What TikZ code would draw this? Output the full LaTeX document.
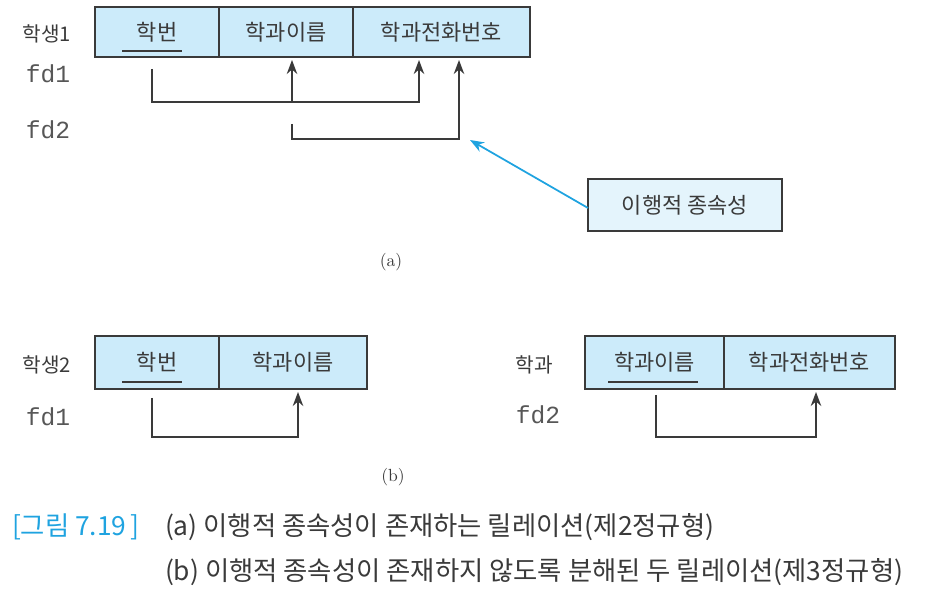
\documentclass[tikz,border=0pt]{standalone}
\usepackage{fontspec}
\usetikzlibrary{arrows.meta,calc}
\newfontfamily\kr{Noto Sans CJK KR}
\newfontfamily\mono{Liberation Mono}
\definecolor{cellblue}{HTML}{CCEBFA}
\definecolor{noteblue}{HTML}{E4F4FC}
\definecolor{linkblue}{HTML}{1FA3E0}
\definecolor{ink}{HTML}{3A3A3A}

\begin{document}
\begin{tikzpicture}[x=0.02cm, y=-0.02cm, outer sep=0pt, >={Stealth[length=8pt,width=6pt]},
  cell/.style={draw=ink, line width=0.9pt, fill=cellblue, inner sep=0pt, minimum height=1cm,
    text=ink, font=\kr\fontsize{12.5}{13}\selectfont},
  note/.style={cell, fill=noteblue, minimum height=1.04cm, minimum width=3.88cm},
  rel/.style={text=ink, inner sep=0pt, font=\kr\fontsize{11.5}{12}\selectfont},
  fdlabel/.style={text=ink!85, inner sep=0pt, font=\mono\fontsize{14}{14}\selectfont},
  sub/.style={text=ink, inner sep=0pt, font=\fontsize{10}{11}\selectfont},
  figcap/.style={text=ink, inner sep=0pt, anchor=west, font=\kr\fontsize{15}{16}\selectfont},
  fdline/.style={draw=ink, line width=0.85pt},
  uline/.style={draw=ink, line width=0.85pt},
  link/.style={draw=linkblue, line width=1pt}]

\useasboundingbox (0,0) rectangle (931,602);

% (a) 학생1
\node[cell, minimum width=2.48cm] at (157,32) (s1id) {학번\hspace{0.28cm}};
\node[cell, minimum width=2.68cm] at (286,32) (s1dept) {학과이름};
\node[cell, minimum width=3.54cm] at (441.5,32) (s1tel) {학과전화번호};
\draw[uline] ($(s1id.center)+(-35,19)$) -- ($(s1id.center)+(25,19)$);

\node[rel] at (47,34) (rel1) {학생1};
\node[fdlabel] at (48,74) (fd1a) {fd1};
\node[fdlabel] at (48,130) (fd2a) {fd2};

\draw[fdline, ->] ($(s1id.south)+(-5,12)$) |- ($(s1tel.south)+(-22.5,45)$)
    -- ($(s1tel.south)+(-22.5,3)$);
\draw[fdline, ->] ($(s1dept.south)+(6,45)$) -- ($(s1dept.south)+(6,3)$);
\draw[fdline, ->] ($(s1dept.south)+(6,67)$) |- ($(s1tel.south)+(17.5,82)$)
    -- ($(s1tel.south)+(17.5,3)$);

\node[note] at (685,205) (trans) {이행적 종속성};
\coordinate (transtip) at (470,140);
\draw[link, ->] ($(trans.west)+(0,3)$) -- (transtip);

\node[sub] at (391,262) (suba) {(a)};

% (b) 학생2
\node[cell, minimum width=2.48cm, minimum height=1.06cm] at (157,362.5) (s2id) {학번\hspace{0.28cm}};
\node[cell, minimum width=2.96cm, minimum height=1.06cm] at (293,362.5) (s2dept) {학과이름};
\draw[uline] ($(s2id.center)+(-35,19.5)$) -- ($(s2id.center)+(25,19.5)$);

\node[rel] at (47,365) (rel2) {학생2};
\node[fdlabel] at (48,417) (fd1b) {fd1};

\draw[fdline, ->] ($(s2id.south)+(-5,9)$) |- ($(s2dept.south)+(5,48)$)
    -- ($(s2dept.south)+(5,3)$);

% (b) 학과
\node[cell, minimum width=2.78cm, minimum height=1.06cm] at (654.5,362.5) (dname) {학과이름};
\node[cell, minimum width=3.42cm, minimum height=1.06cm] at (809.5,362.5) (dtel) {학과전화번호};
\draw[uline] ($(dname.center)+(-46.5,19.5)$) -- ($(dname.center)+(43.5,19.5)$);

\node[rel] at (534,365) (rel3) {학과};
\node[fdlabel] at (538,415) (fd2b) {fd2};

\draw[fdline, ->] ($(dname.south)+(1.5,6)$) |- ($(dtel.south)+(6.5,48)$)
    -- ($(dtel.south)+(6.5,3)$);

\node[sub] at (393,477) (subb) {(b)};

% caption
\node[figcap, text=linkblue] at (12,527) (capnum) {[그림 7.19\,]};
\node[figcap] at (165,527) (capa) {(a) 이행적 종속성이 존재하는 릴레이션(제2정규형)};
\node[figcap] at (165,572) (capb) {(b) 이행적 종속성이 존재하지 않도록 분해된 두 릴레이션(제3정규형)};
\end{tikzpicture}
\end{document}
